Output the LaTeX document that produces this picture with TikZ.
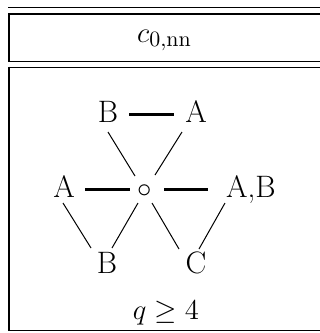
\documentclass[tikz,border=0pt]{standalone}
\usetikzlibrary{calc}
\begin{document}
\begin{tikzpicture}[x=0.5pt,y=-0.5pt,
  lbl/.style={anchor=base,inner sep=0pt,font=\fontsize{15.5}{18}\selectfont},
  rulel/.style={line width=0.85pt},
  thickl/.style={line width=1.1pt},
  thinl/.style={line width=0.5pt}]
\useasboundingbox (0,0) rectangle (320,333);
% table rules (the table continues past the right edge)
\draw[rulel] (8.3,7.5) -- (320,7.5);
\draw[rulel] (8.3,14.2) -- (320,14.2);
\draw[rulel] (8.3,61.5) -- (320,61.5);
\draw[rulel] (9.15,13.35) -- (9.15,62.35);
\draw[rulel] (8.3,67.5) -- (320,67.5);
\draw[rulel] (8.3,330.5) -- (320,330.5);
\draw[rulel] (9.15,66.65) -- (9.15,331.35);
% header
\node[lbl] (c0) at (164.5,42) {$c_{0,\mathrm{nn}}$};
% graph nodes
\node[lbl] (tB) at (108,122) {B};
\node[lbl] (tA) at (196,122) {A};
\node[lbl] (mA) at (64,197) {A};
\node[lbl] (o) at (144.5,197) {$\circ$};
\node[lbl] (mAB) at (251,197) {A,B};
\node[lbl] (bB) at (107,273) {B};
\node[lbl] (bC) at (196,273) {C};
\node[lbl] (q) at (166,319) {$q\geq 4$};
% thick connectors
\draw[thickl] ($(tB.base)+(21,-7.5)$) -- ($(tA.base)+(-22,-7.5)$);
\draw[thickl] ($(mA.base)+(21,-7.5)$) -- ($(o.base)+(-14.5,-7.5)$);
\draw[thickl] ($(o.base)+(19.5,-7.5)$) -- ($(mAB.base)+(-43,-7.5)$);
% thin connectors
\draw[thinl] ($(tB.base)+(0,10)$) -- ($(o.base)+(-9.5,-21)$);
\draw[thinl] ($(tA.base)+(-14,10)$) -- ($(o.base)+(10.5,-22)$);
\draw[thinl] ($(mA.base)+(-1,6)$) -- ($(bB.base)+(-16,-25)$);
\draw[thinl] ($(o.base)+(-6.5,6)$) -- ($(bB.base)+(5,-25)$);
\draw[thinl] ($(o.base)+(7.5,6)$) -- ($(bC.base)+(-17,-24)$);
\draw[thinl] ($(mAB.base)+(-26,6)$) -- ($(bC.base)+(3,-24)$);
\end{tikzpicture}
\end{document}
